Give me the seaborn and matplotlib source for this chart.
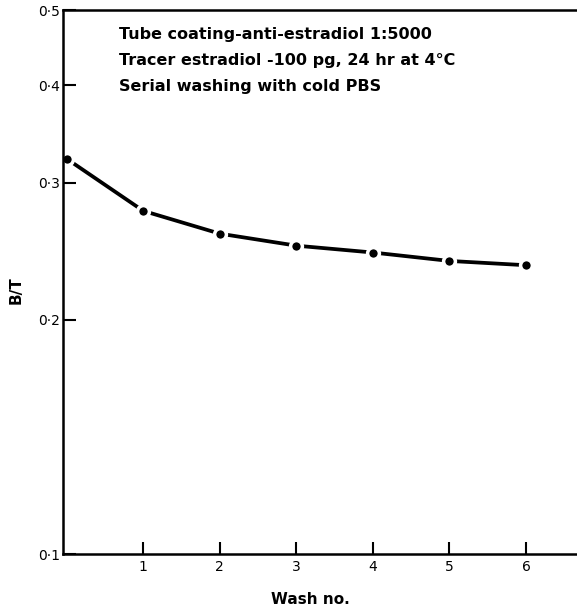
import numpy as np
import pandas as pd
import matplotlib
matplotlib.use("Agg")
import matplotlib.pyplot as plt
import seaborn as sns

wash_no = [0, 1, 2, 3, 4, 5, 6]
b_over_t = [0.322, 0.276, 0.258, 0.249, 0.244, 0.238, 0.235]
x_ticks = [1, 2, 3, 4, 5, 6]
y_ticks = [0.1, 0.2, 0.3, 0.4, 0.5]
y_tick_labels = ["0·1", "0·2", "0·3", "0·4", "0·5"]
notes = ["Tube coating-anti-estradiol 1:5000",
         "Tracer estradiol -100 pg, 24 hr at 4°C",
         "Serial washing with cold PBS"]

sns.set_style("white")
plt.rcParams["font.family"] = ["DejaVu Sans"]
plt.rcParams["text.color"] = "black"

df = pd.DataFrame({"wash": wash_no, "bt": b_over_t})

fig = plt.figure(figsize=(5.77, 6.08), dpi=100)
ax = fig.add_axes([0.1092, 0.0888, 0.8908, 0.8947])

sns.lineplot(data=df, x="wash", y="bt", ax=ax, color="black", linewidth=2.7,
             marker="o", markersize=8.5, markerfacecolor="black",
             markeredgecolor="white", markeredgewidth=2.5, clip_on=False)

ax.set_yscale("log")
ax.set_ylim(0.1, 0.5)
ax.set_xlim(-0.048, 6.666)
ax.set_yticks(y_ticks)
ax.set_yticklabels(y_tick_labels)
ax.yaxis.set_minor_locator(matplotlib.ticker.NullLocator())
ax.set_xticks(x_ticks)
ax.set_xticklabels([str(v) for v in x_ticks])

for side in ["left", "bottom", "top"]:
    ax.spines[side].set_visible(True)
    ax.spines[side].set_color("black")
    ax.spines[side].set_linewidth(1.8)
ax.spines["right"].set_visible(False)

ax.tick_params(axis="both", direction="in", length=9, width=1.5, colors="black",
               labelsize=10, pad=3)
ax.tick_params(axis="y", left=True, right=False, pad=2)
ax.tick_params(axis="x", bottom=True, top=False, pad=4)

ax.set_xlabel("")
ax.set_ylabel("")
fig.text(310 / 577, 1 - 599 / 608, "Wash no.", fontsize=11, fontweight="bold",
         ha="center", va="center", color="black")
fig.text(16 / 577, 1 - 290 / 608, "B/T", fontsize=11, fontweight="bold",
         ha="center", va="center", rotation=90, color="black")

note_y = [34, 61, 87]
for t, yy in zip(notes, note_y):
    fig.text(119 / 577, 1 - yy / 608, t, fontsize=11.5,
             fontweight="bold", va="center", ha="left", color="black")

fig.savefig("out.png", dpi=100)
